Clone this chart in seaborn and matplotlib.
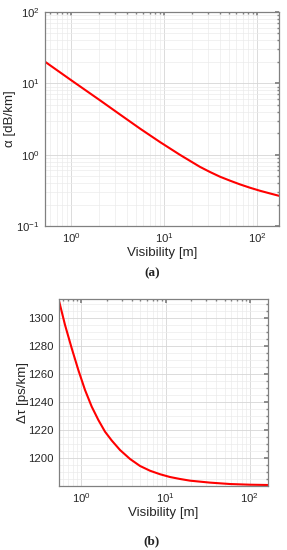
import numpy as np
import pandas as pd
import matplotlib
matplotlib.use("Agg")
import matplotlib.pyplot as plt
import seaborn as sns
from matplotlib.ticker import LogLocator, NullFormatter, AutoMinorLocator

# ---- Data ----
# (a) attenuation vs visibility
vis_a = [0.525, 1.0, 2.05, 3.36, 5.52, 9.06, 14.86, 24.4, 31.2, 40.0, 51.3, 65.7, 84.1, 107.7, 138, 172.5]
alpha_a = [20.1, 11.1, 5.78, 3.66, 2.32, 1.502, 0.994, 0.674, 0.572, 0.491, 0.432, 0.383, 0.344, 0.312, 0.286, 0.265]

# (b) delay spread vs visibility
vis_b = [0.539, 0.641, 0.769, 0.921, 1.106, 1.328, 1.591, 1.910, 2.294, 2.878, 3.782,
         4.970, 6.53, 8.58, 11.28, 14.82, 19.47, 33.6, 58.1, 100.3, 162.6]
tau_b = [1313.4, 1295.2, 1278.6, 1263.1, 1248.8, 1236.9, 1227.4, 1219.0, 1212.7, 1205.9, 1199.5,
         1194.5, 1191.1, 1188.6, 1186.6, 1185.2, 1184.0, 1182.6, 1181.6, 1181.1, 1180.9]

yticks_b = [1200, 1220, 1240, 1260, 1280, 1300]

sns.set_theme(style="white")
plt.rcParams['font.family'] = ['Liberation Sans', 'DejaVu Sans']
plt.rcParams['mathtext.fontset'] = 'custom'
plt.rcParams['mathtext.rm'] = 'Liberation Sans'
plt.rcParams['mathtext.it'] = 'Liberation Sans:italic'
plt.rcParams['axes.unicode_minus'] = False

TICK_FS = 8.2
LABEL_FS = 9.6

fig = plt.figure(figsize=(2.87, 5.5), dpi=100)
ax1 = fig.add_axes([45 / 287, 1 - 226 / 550, 234 / 287, 214 / 550])
ax2 = fig.add_axes([58.7 / 287, 1 - 485.7 / 550, 209 / 287, 186.4 / 550])

df_a = pd.DataFrame({"Visibility": vis_a, "alpha": alpha_a})
df_b = pd.DataFrame({"Visibility": vis_b, "tau": tau_b})

sns.lineplot(data=df_a, x="Visibility", y="alpha", ax=ax1, color="#ff0000",
             linewidth=1.5, sort=False)
sns.lineplot(data=df_b, x="Visibility", y="tau", ax=ax2, color="#ff0000",
             linewidth=1.5, sort=False)

for ax in (ax1, ax2):
    ax.set_xscale("log")
    ax.xaxis.set_major_locator(LogLocator(base=10, numticks=10))
    ax.xaxis.set_minor_locator(LogLocator(base=10, subs=np.arange(2, 10), numticks=20))
    ax.xaxis.set_minor_formatter(NullFormatter())
    ax.grid(True, which="major", color="#d6d6d6", linewidth=0.6)
    ax.grid(True, which="minor", color="#ebebeb", linewidth=0.5)
    ax.set_axisbelow(True)
    for s in ax.spines.values():
        s.set_color("#808080")
        s.set_linewidth(0.9)
    ax.tick_params(which="both", direction="in", top=True, right=True,
                   colors="#808080", labelcolor="#262626", labelsize=TICK_FS, pad=4)
    ax.tick_params(which="major", length=3)
    ax.tick_params(which="minor", length=1.5)
    ax.set_xlabel("Visibility [m]", fontsize=LABEL_FS, color="#262626", labelpad=1.5)

ax1.set_yscale("log")
ax1.set_xlim(0.525, 172.5)
ax1.set_ylim(0.1, 100)
ax1.yaxis.set_major_locator(LogLocator(base=10, numticks=10))
ax1.yaxis.set_minor_locator(LogLocator(base=10, subs=np.arange(2, 10), numticks=20))
ax1.yaxis.set_minor_formatter(NullFormatter())
ax1.set_ylabel("α [dB/km]", fontsize=LABEL_FS, color="#262626", labelpad=0)

ax2.set_xlim(0.539, 162.6)
ax2.set_ylim(1180.4, 1313.6)
ax2.set_yticks(yticks_b)
ax2.yaxis.set_minor_locator(AutoMinorLocator(4))
ax2.set_ylabel("Δτ [ps/km]", fontsize=LABEL_FS, color="#262626", labelpad=-1)

fig.text(152 / 287, 1 - 273 / 550, "(a)", ha="center", va="center", fontsize=9.5,
         family="Liberation Serif", weight="bold", color="#222222")
fig.text(151 / 287, 1 - 541 / 550, "(b)", ha="center", va="center", fontsize=9.5,
         family="Liberation Serif", weight="bold", color="#222222")

fig.savefig("out.png", dpi=100)
